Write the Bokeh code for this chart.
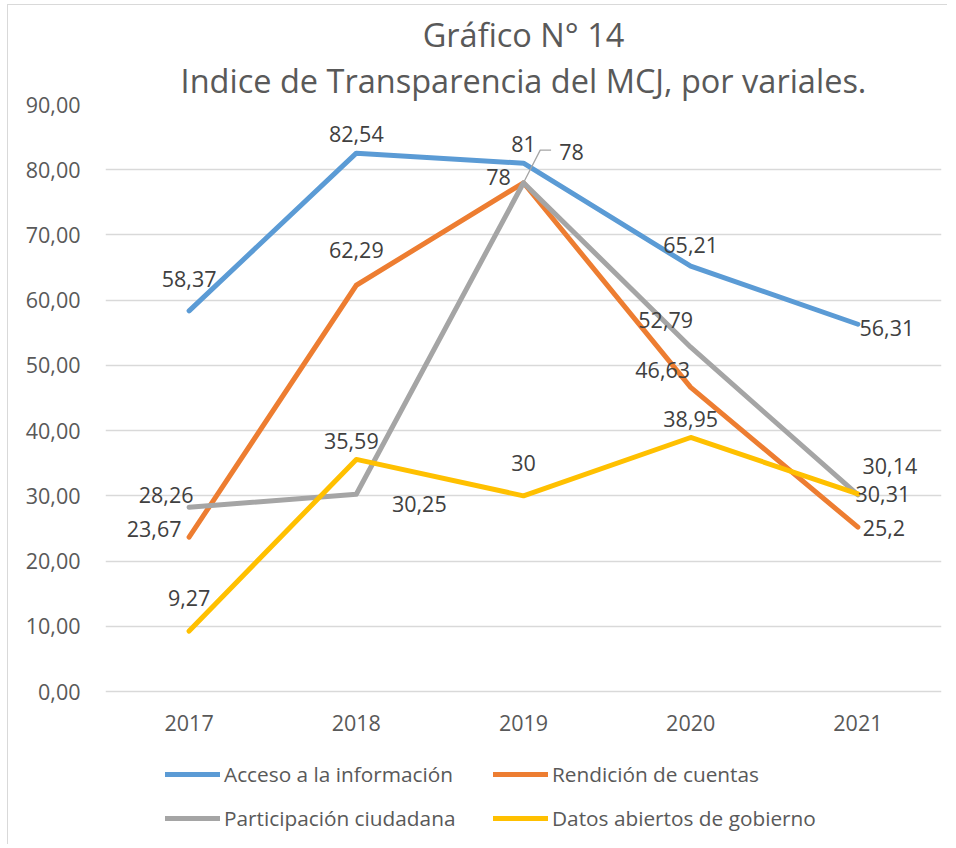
from bokeh.plotting import figure
from bokeh.models import ColumnDataSource, Title, Legend, LegendItem, FixedTicker, FactorRange, Range1d
from bokeh.core.properties import value
from bokeh.embed import file_html
from bokeh.resources import INLINE

years = ["2017", "2018", "2019", "2020", "2021"]
acceso = [58.37, 82.54, 81, 65.21, 56.31]
rendicion = [23.67, 62.29, 78, 46.63, 25.2]
participacion = [28.26, 30.25, 78, 52.79, 30.14]
datos = [9.27, 35.59, 30, 38.95, 30.31]

acceso_lbl = ["58,37", "82,54", "81", "65,21", "56,31"]
rendicion_lbl = ["23,67", "62,29", "78", "46,63", "25,2"]
participacion_lbl = ["28,26", "30,25", "78", "52,79", "30,14"]
datos_lbl = ["9,27", "35,59", "30", "38,95", "30,31"]

series_names = ["Acceso a la información", "Rendición de cuentas",
                "Participación ciudadana", "Datos abiertos de gobierno"]
y_ticks = [0, 10, 20, 30, 40, 50, 60, 70, 80, 90]
y_tick_labels = ["0,00", "10,00", "20,00", "30,00", "40,00", "50,00",
                 "60,00", "70,00", "80,00", "90,00"]

# styling: colours and label offsets (pixels)
colors = ["#5B9BD5", "#ED7D31", "#A5A5A5", "#FFC000"]
offsets = [
    ([0, 0, 0, 0, 29], [-32, -19, -19, -21, 4]),
    ([-35, 0, -25, -28, 26], [-8, -35, -6, -17, 1]),
    ([-23, 63, 48, -25, 32], [-12, 10, -31, -27, -29]),
    ([0, -5, 0, 0, 25], [-33, -18, -33, -18, 0]),
]

FONT = "Open Sans"
TXT = "#595959"
LBL = "#404040"
GRID = "#D9D9D9"

# frame extends below zero to hold the category labels and the legend
p = figure(width=940, height=840, x_range=FactorRange(*years, range_padding=0),
           y_range=Range1d(-23.6, 90), output_backend="svg", toolbar_location=None,
           min_border_left=97, min_border_right=7, min_border_top=99, min_border_bottom=0)
p.styles = {"margin-left": "7px", "margin-top": "4px",
            "border-left": "1px solid " + GRID, "border-top": "1px solid " + GRID}

p.title.text = "Gráfico N° 14"
p.title.text_font = FONT
p.title.text_font_size = "32.5px"
p.title.text_font_style = "normal"
p.title.text_color = TXT
p.title.align = "center"
p.title.standoff = -6
t2 = Title(text="Indice de Transparencia del MCJ, por variales.", text_font=FONT,
           text_font_size="32.5px", text_font_style="normal", text_color=TXT,
           align="center", standoff=4)
p.add_layout(t2, "above")

p.outline_line_color = None
p.xgrid.grid_line_color = None
p.ygrid.grid_line_color = GRID
p.ygrid.grid_line_width = 1.3
p.xaxis.visible = False

p.yaxis.ticker = FixedTicker(ticks=y_ticks)
p.yaxis.major_label_overrides = {t: l for t, l in zip(y_ticks, y_tick_labels)}
p.yaxis.axis_line_color = None
p.yaxis.major_tick_line_color = None
p.yaxis.minor_tick_line_color = None
p.yaxis.major_label_standoff = 19
p.yaxis.major_label_text_font = FONT
p.yaxis.major_label_text_font_size = "21.5px"
p.yaxis.major_label_text_color = TXT

# category labels under the zero line
cat_src = ColumnDataSource(dict(x=years, y=[0] * len(years), t=years))
p.text(x="x", y="y", text="t", source=cat_src, y_offset=31,
       text_align="center", text_baseline="middle",
       text_font=value(FONT), text_font_size="21.5px", text_color=TXT)

all_vals = [acceso, rendicion, participacion, datos]
all_lbls = [acceso_lbl, rendicion_lbl, participacion_lbl, datos_lbl]
items = []
for name, vals, col in zip(series_names, all_vals, colors):
    r = p.line(years, vals, line_color=col, line_width=5,
               line_join="round", line_cap="round")
    items.append(LegendItem(label=name, renderers=[r]))

# leader line for participación 2019 label
pv = participacion[2]
p.line([("2019", 0.0), ("2019", 0.1), ("2019", 0.165)],
       [pv, pv + 5.0, pv + 5.0], line_color="#A5A5A5", line_width=1.3)

for vals, lbls, (dx, dy) in zip(all_vals, all_lbls, offsets):
    src = ColumnDataSource(dict(x=years, y=vals, t=lbls, dx=dx, dy=dy))
    p.text(x="x", y="y", text="t", x_offset="dx", y_offset="dy", source=src,
           text_align="center", text_baseline="middle",
           text_font=value(FONT), text_font_size="21.5px", text_color=LBL)

# grid legend is filled column-wise
legend = Legend(items=[items[0], items[2], items[1], items[3]], ncols=2,
                location=(50, 3),
                label_text_font=FONT, label_text_font_size="20.8px",
                label_text_color=TXT, glyph_width=55, glyph_height=22,
                label_standoff=4, label_width=253, spacing=16,
                border_line_alpha=0, background_fill_alpha=0,
                padding=10, margin=0)
p.add_layout(legend, "center")

open("out.html", "w").write(file_html(p, INLINE))
